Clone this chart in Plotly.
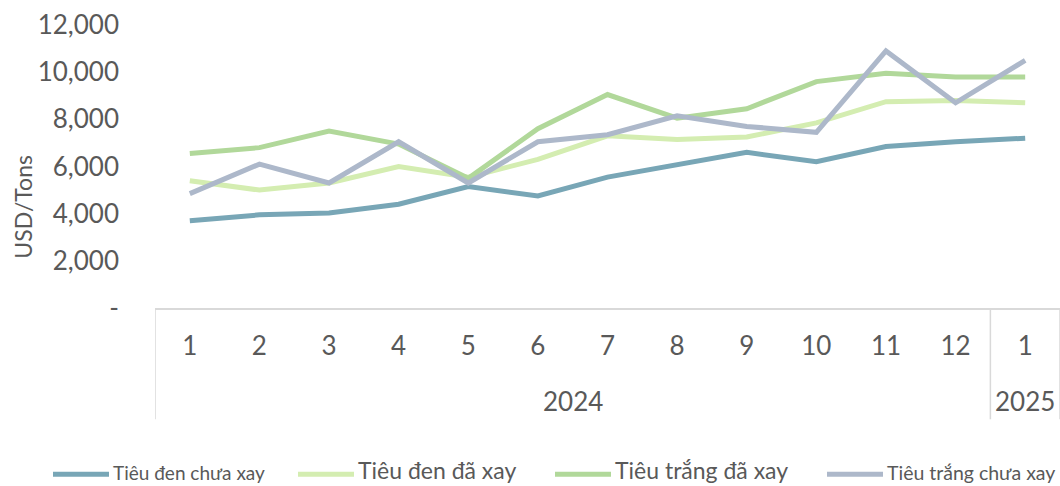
import plotly.graph_objects as go

years = ["2024"] * 12 + ["2025"]
months = ["1", "2", "3", "4", "5", "6", "7", "8", "9", "10", "11", "12", "1"]
year_groups = ["2024", "2025"]

series_names = ["Tiêu đen chưa xay", "Tiêu đen đã xay", "Tiêu trắng đã xay", "Tiêu trắng chưa xay"]
den_chua_xay = [3700, 3950, 4030, 4400, 5150, 4750, 5550, 6050, 6600, 6200, 6850, 7050, 7200]
den_da_xay = [5400, 5000, 5300, 6000, 5550, 6300, 7300, 7150, 7250, 7850, 8750, 8800, 8700]
trang_da_xay = [6550, 6800, 7500, 6950, 5500, 7600, 9050, 8050, 8450, 9600, 9950, 9800, 9800]
trang_chua_xay = [4850, 6100, 5300, 7050, 5300, 7050, 7350, 8150, 7700, 7450, 10900, 8700, 10500]

y_tickvals = [0, 2000, 4000, 6000, 8000, 10000, 12000]
y_ticktext = ["-", "2,000", "4,000", "6,000", "8,000", "10,000", "12,000"]

colors = ["#78A6B6", "#D4EDB1", "#B1D89A", "#ADB8CA"]
legend_font_sizes = [19, 23, 23, 19.5]
all_series = [den_chua_xay, den_da_xay, trang_da_xay, trang_chua_xay]

# unique category keys (year-month) so repeated month labels stay distinct
cats = [f"{y}-{m}" for y, m in zip(years, months)]

W, H = 1060, 486
ML, MR, MT, MB = 155, 0, 25, 177.5
PW, PH = W - ML - MR, H - MT - MB

def px_x(px):
    return (px - ML) / PW

def px_y(py):
    return (H - MB - py) / PH

fig = go.Figure()
for name, vals, col in zip(series_names, all_series, colors):
    fig.add_trace(go.Scatter(
        x=cats, y=vals, name=name, mode="lines",
        line=dict(color=col, width=5), showlegend=False,
    ))

FONT = "Lato"
TXT = "#595959"
GRID = "#D9D9D9"

# group dividers and year labels of the two-level category axis
div_bottom = px_y(420)
group_bounds = [-0.5]
for i in range(1, len(years)):
    if years[i] != years[i - 1]:
        group_bounds.append(i - 0.5)
group_bounds.append(len(years) - 0.5)
for b in group_bounds:
    fig.add_shape(type="line", xref="x", yref="paper", x0=b, x1=b, y0=0, y1=div_bottom,
                  line=dict(color=GRID, width=1.5))
for yr in year_groups:
    idx = [i for i, y in enumerate(years) if y == yr]
    fig.add_annotation(text=yr, xref="x", yref="paper",
                       x=(idx[0] + idx[-1]) / 2, y=px_y(402),
                       xanchor="center", yanchor="middle", showarrow=False,
                       font=dict(family=FONT, size=26, color=TXT))

# manual legend (line samples + labels)
leg_line_x = [(53, 109), (298, 354), (555, 611), (827, 883)]
leg_text_y = [473, 471, 471, 473]
leg_y = 475
for (x0, x1), ty, name, col, fs in zip(leg_line_x, leg_text_y, series_names, colors, legend_font_sizes):
    fig.add_shape(type="line", xref="paper", yref="paper",
                  x0=px_x(x0), x1=px_x(x1), y0=px_y(leg_y), y1=px_y(leg_y),
                  line=dict(color=col, width=5))
    fig.add_annotation(text=name, xref="paper", yref="paper",
                       x=px_x(x1 + 2), y=px_y(ty), xanchor="left", yanchor="middle",
                       showarrow=False, font=dict(family=FONT, size=fs, color=TXT))

fig.add_annotation(text="USD/Tons", xref="paper", yref="paper",
                   x=px_x(23), y=px_y(207), textangle=-90,
                   xanchor="center", yanchor="middle", showarrow=False,
                   font=dict(family=FONT, size=23, color=TXT))

fig.update_layout(
    width=W, height=H,
    margin=dict(l=ML, r=MR, t=MT, b=MB, pad=0),
    plot_bgcolor="white", paper_bgcolor="white",
    font=dict(family=FONT, size=26, color=TXT),
    xaxis=dict(
        type="category", range=[-0.5, len(cats) - 0.5],
        tickvals=cats, ticktext=months,
        showline=True, linecolor=GRID, linewidth=1.5,
        showgrid=False, zeroline=False, ticks="",
        ticklabelstandoff=14,
        tickfont=dict(family=FONT, size=26, color=TXT),
        automargin=False,
    ),
    yaxis=dict(
        range=[0, 12000], tickvals=y_tickvals, ticktext=y_ticktext,
        showgrid=False, zeroline=False, showline=False, ticks="",
        ticklabelstandoff=35,
        tickfont=dict(family=FONT, size=26, color=TXT),
        automargin=False,
    ),
)

fig.write_html("out.html", config={"displayModeBar": False},
               post_script="document.body.style.margin='0';")
